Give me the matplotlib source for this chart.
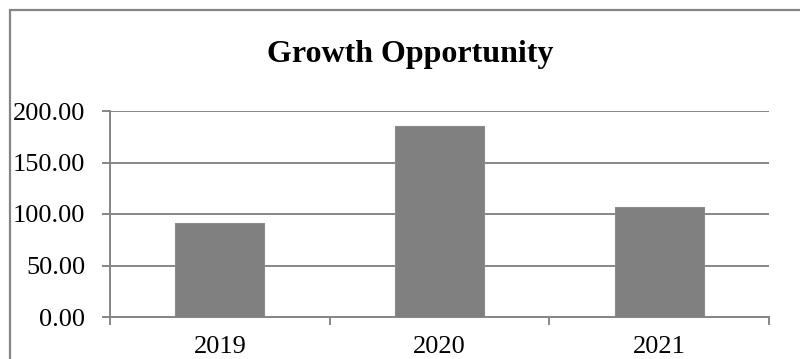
import matplotlib.pyplot as plt
from matplotlib.patches import Rectangle
from matplotlib.ticker import FixedLocator

# Werte pro Jahr
years = ['2019', '2020', '2021']
growth = [91.3, 185.7, 107.1]
yticks = [0, 50, 100, 150, 200]

plt.rcParams['font.family'] = ['Liberation Serif', 'DejaVu Serif']

fig = plt.figure(figsize=(8, 3.59), dpi=100)
ax = fig.add_axes((110/800, 42/359, 659/800, 206/359))

grey = '#808080'
line = '#868686'

# Rahmen um das Diagramm
fig.patches.append(Rectangle((9.5/800, -0.1), 1.0, 1 - 10.5/359 + 0.1,
                             transform=fig.transFigure, fill=False,
                             edgecolor=line, linewidth=1.6))

x = range(len(years))
ax.bar(x, growth, width=0.405, color=grey, edgecolor='#8a8a8a', linewidth=0.8, zorder=3)

ax.set_xlim(-0.5, len(years) - 0.5)
ax.set_ylim(0, 200)
ax.set_yticks(yticks)
ax.set_yticklabels([f'{v:.2f}' for v in yticks])
ax.yaxis.grid(True, color=line, linewidth=1.4, zorder=0)
ax.set_axisbelow(True)

ax.set_xticks(list(x))
ax.set_xticklabels(years)
ax.xaxis.set_minor_locator(FixedLocator([-0.5, 0.5, 1.5, 2.5]))
ax.tick_params(axis='x', which='major', length=0, pad=13.5, labelsize=19)
ax.tick_params(axis='x', which='minor', length=5.5, width=1.4, color=line, direction='out')
ax.tick_params(axis='y', length=6, width=1.4, color=line, pad=12, labelsize=19)

for s in ['top', 'right']:
    ax.spines[s].set_visible(False)
for s in ['left', 'bottom']:
    ax.spines[s].set_color(line)
    ax.spines[s].set_linewidth(1.4)

fig.text(410/800, 1 - 62/359, 'Growth Opportunity', ha='center', va='baseline',
         fontsize=23, fontweight='bold')

fig.savefig('out.png', dpi=100)
